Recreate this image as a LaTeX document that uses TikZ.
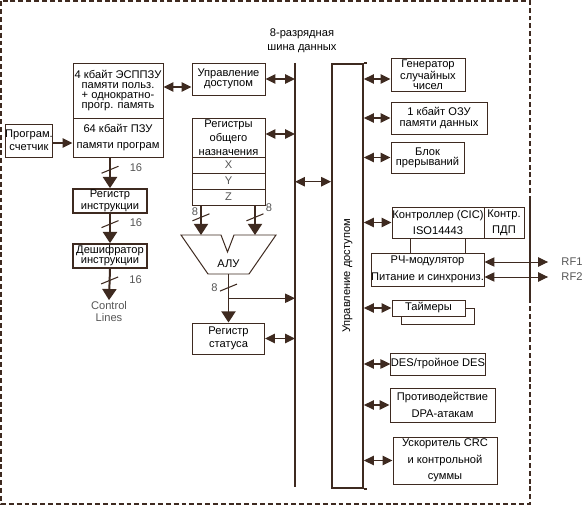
\documentclass[tikz,border=0pt]{standalone}
\usepackage{fontspec}
\setmainfont{Liberation Sans}
\usetikzlibrary{arrows.meta,calc}
\definecolor{ink}{RGB}{62,42,32}
\definecolor{notegray}{RGB}{85,85,85}

\begin{document}
\begin{tikzpicture}[x=0.03cm,y=-0.03cm,
  blk/.style={draw=ink,line width=0.85pt,inner sep=0pt,align=center,font=\fontsize{9.5}{12}\selectfont},
  tight/.style={font=\fontsize{9.5}{8.6}\selectfont},
  note/.style={text=notegray,inner sep=1pt,align=center,font=\fontsize{9.5}{10}\selectfont},
  bi/.style={draw=ink,line width=1.2pt,{Triangle[length=8.5pt,width=8pt]}-{Triangle[length=8.5pt,width=8pt]}},
  harr/.style={draw=ink,line width=1.2pt,-{Triangle[length=8.5pt,width=8pt]}},
  varr/.style={draw=ink,line width=1.7pt,-{Triangle[length=9.5pt,width=12pt]}},
  slash/.style={draw=ink,line width=0.9pt},
  bus/.style={draw=ink,line width=1.5pt}]
\useasboundingbox (0,0) rectangle (583,506);
% frame
\draw[ink,line width=1.7pt,dash pattern=on 4.2pt off 2.5pt] (1.3,1.3) rectangle (530,504);
\draw[ink,line width=1pt] (530,196) -- (530,298);

% program memory and decoding
\node[blk,tight,minimum width=2.7cm,minimum height=1.65cm] (memhi) at (118,90.5) {4 кбайт ЭСППЗУ\\памяти польз.\\+ однократно-\\прогр. память};
\node[blk,font=\fontsize{9.5}{14}\selectfont,minimum width=2.7cm,minimum height=1.17cm] (memlo) at (118,137.5) {64 кбайт ПЗУ\\памяти програм};
\node[blk,font=\fontsize{9.5}{11}\selectfont,minimum width=1.38cm,minimum height=0.99cm] (pc) at (29,140.5) {Програм.\\счетчик};
\node[blk,line width=1.5pt,font=\fontsize{9.5}{10}\selectfont,minimum width=2.22cm,minimum height=0.72cm] (ir) at (110,201) {Регистр\\инструкции};
\node[blk,tight,line width=1.5pt,minimum width=2.22cm,minimum height=0.72cm] (dec) at (110,256) {Дешифратор\\инструкции};
\node[note] (ctl) at (109,311.5) {Control\\Lines};

\draw[harr] ($(pc.east)+(0,2.5)$) coordinate (pcout) -- (pcout -| memlo.west);
\draw[varr] (ir.north |- memlo.south) -- (ir.north);
\draw[varr] (ir.south) -- (dec.north);
\draw[varr] (dec.south) -- (ctl.north);

\path ($(ir.north |- memlo.south)!0.4!(ir.north)$) coordinate (s1);
\path ($(ir.south)!0.35!(dec.north)$) coordinate (s2);
\path ($(dec.south)!0.37!(ctl.north)$) coordinate (s3);
\foreach \s in {s1,s2,s3}
  \draw[slash] (\s) ++(-8.5,3.5) -- ++(17,-7);
\node[note] (w1) at ($(s1)+(26,-2)$) {16};
\node[note] (w2) at ($(s2)+(26,-1)$) {16};
\node[note] (w3) at ($(s3)+(26,-1)$) {16};

% registers and ALU
\node[blk,tight,minimum width=2.19cm,minimum height=0.96cm] (acc) at (228.5,79) {Управление\\доступом};
\node[blk,minimum width=2.19cm,minimum height=1.17cm] (gpr) at (228.5,137.5) {Регистры\\общего\\назначения};
\node[blk,text=notegray,minimum width=2.19cm,minimum height=0.48cm] (rx) at (228.5,165) {X};
\node[blk,text=notegray,minimum width=2.19cm,minimum height=0.48cm] (ry) at (228.5,181) {Y};
\node[blk,text=notegray,minimum width=2.19cm,minimum height=0.48cm] (rz) at (228.5,197) {Z};

\draw[ink,line width=0.85pt] (181,235) coordinate (aluTL) -- (221,235) coordinate (aluNL)
  -- (227.5,252) -- (234,235) coordinate (aluNR) -- (276,235) coordinate (aluTR)
  -- (249,274) coordinate (aluBR) -- (208,274) coordinate (aluBL) -- cycle;
\node[font=\fontsize{9.5}{11}\selectfont] (alu) at (228.5,264) {АЛУ};
\coordinate (aluinA) at ($(aluTL)!0.5!(aluNL)$);
\coordinate (aluinB) at ($(aluNR)!0.5!(aluTR)$);
\coordinate (aluout) at ($(aluBL)!0.5!(aluBR)$);

\node[blk,font=\fontsize{9.5}{11}\selectfont,minimum width=2.16cm,minimum height=0.93cm] (st) at (228.5,338.5) {Регистр\\статуса};

\draw[varr] (rz.south -| aluinA) -- (aluinA);
\draw[varr] (rz.south -| aluinB) -- (aluinB);
\draw[varr] (aluout) -- (st.north);
\path ($(rz.south -| aluinA)!0.4!(aluinA)$) coordinate (s4);
\path ($(rz.south -| aluinB)!0.4!(aluinB)$) coordinate (s5);
\path ($(aluout)!0.28!(st.north)$) coordinate (s6);
\foreach \s in {s4,s5,s6}
  \draw[slash] (\s) ++(-8.5,3.5) -- ++(17,-7);
\node[note] (w4) at ($(s4)+(-6,-6)$) {8};
\node[note] (w5) at ($(s5)+(14,-10)$) {8};
\node[note] (w6) at ($(s6)+(-14,0.5)$) {8};

% data bus
\coordinate (busT) at (295,63);
\coordinate (busB) at (295,487);
\draw[bus] (busT) -- (busB);
\node[align=center,font=\fontsize{9.5}{12}\selectfont] (ttl) at (302,41) {8-разрядная\\шина данных};

\coordinate (br) at ($(aluout)!0.5!(st.north)$);
\draw[harr,line width=0.85pt] (br) -- (br -| busT);
\draw[bi] ($(memhi.east)+(0,-3.5)$) coordinate (m1) -- (m1 -| acc.west);
\draw[bi] (acc.east) -- (acc.east -| busT);
\draw[bi] ($(gpr.east)+(0,-3.5)$) coordinate (g1) -- (g1 -| busT);
\draw[bi] (st.east) -- (st.east -| busT);

% access control
\node[blk,line width=1.5pt,minimum width=0.93cm,minimum height=12.72cm] (acs) at (347.5,276) {};
\node[rotate=90,font=\fontsize{9.5}{11}\selectfont] (acstxt) at (acs.center) {Управление доступом};
\draw[bus] (acs.north east) -- ++(3,0);
\draw[bus] (acs.south east) -- ++(3,0);
\coordinate (link) at ($(busT)!0.28!(busB)$);
\draw[bi] (link) -- (link -| acs.west);

% peripherals
\node[blk,tight,minimum width=2.22cm,minimum height=0.99cm] (gen) at (428,74.5) {Генератор\\случайных\\чисел};
\node[blk,tight,font=\fontsize{9.5}{8.8}\selectfont,minimum width=2.88cm,minimum height=0.96cm] (ram) at (439,118) {1 кбайт ОЗУ\\памяти данных};
\node[blk,tight,font=\fontsize{9.5}{8.8}\selectfont,minimum width=2.19cm,minimum height=0.93cm] (irq) at (427.5,157.5) {Блок\\прерываний};
\node[blk,font=\fontsize{9.5}{14}\selectfont,minimum width=2.76cm,minimum height=0.93cm] (cic) at (438,222.5) {Контроллер (CIC)\\ISO14443};
\node[blk,font=\fontsize{9.5}{14}\selectfont,minimum width=1.2cm,minimum height=0.93cm] (dma) at (504,222.5) {Контр.\\ПДП};
\node[blk,font=\fontsize{9.5}{14}\selectfont,minimum width=3.39cm,minimum height=0.99cm] (rf) at (427.5,269.5) {РЧ-модулятор\\Питание и синхрониз.};
\node[blk,minimum width=2.19cm,minimum height=0.48cm] (tmb) at (437.5,316) {};
\node[blk,fill=white,minimum width=2.19cm,minimum height=0.48cm] (tm) at (428.5,308) {Таймеры};
\node[blk,minimum width=2.76cm,minimum height=0.66cm] (des) at (438,364) {DES/тройное DES};
\node[blk,font=\fontsize{9.5}{15}\selectfont,minimum width=3.15cm,minimum height=1.02cm] (dpa) at (442.5,405) {Противодействие\\DPA-атакам};
\node[blk,font=\fontsize{9.5}{14}\selectfont,minimum width=3.12cm,minimum height=1.41cm] (crc) at (445,460.5) {Ускоритель CRC\\и контрольной\\суммы};

\draw[bi] ($(gen.west)+(0,4.5)$) coordinate (q1) -- (q1 -| acs.east);
\foreach \b in {ram,irq,cic,tm,des,dpa,crc}
  \draw[bi] (acs.east |- \b.west) -- (\b.west);

\coordinate (c1) at ($(cic.south west)!0.2!(cic.south east)$);
\coordinate (c2) at ($(cic.south west)!0.8!(cic.south east)$);
\draw[ink,line width=0.85pt] (c1) -- (c1 |- rf.north);
\draw[ink,line width=0.85pt] (c2) -- (c2 |- rf.north);

% antenna
\node[note] (rfa) at (572,262) {RF1};
\node[note] (rfb) at (572,277) {RF2};
\coordinate (ant1) at ($(rfa.west)+(-12,0)$);
\coordinate (ant2) at ($(rfb.west)+(-12,0)$);
\draw[bi,line width=0.85pt] (ant1 -| rf.east) -- (ant1);
\draw[bi,line width=0.85pt] (ant2 -| rf.east) -- (ant2);
\end{tikzpicture}
\end{document}
